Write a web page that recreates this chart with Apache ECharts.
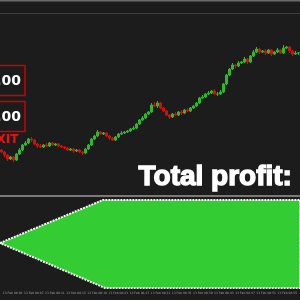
<!DOCTYPE html>
<html><head><meta charset="utf-8">
<style>html,body{margin:0;padding:0;background:#1c1c1c;}#c{width:300px;height:300px;}</style>
<script src="https://cdn.jsdelivr.net/npm/echarts@6/dist/echarts.min.js"></script>
</head><body><div id="c"></div>
<script>
const openVals  = [50,48,45,41,43,40,46,50,55,57, 61,60,56,54,53,55,54,57,55,56, 54,53,52,50,51,49,50,48,47,51, 55,61,64,68,66,67,64,62,60,63, 66,67,68,69,71,72,76,80,82,86, 88,95,94,97,92,89,85,83,86,85, 88,87,90,89,92,94,97,102,103,106, 107,109,106,106,108,116,125,131,135,134, 137,138,141,138,144,148,151,148,149,147, 150,146,148,150,147,152,153,149,146,147];
const closeVals = [48,45,41,43,40,46,50,55,57,61, 60,56,54,53,55,54,57,55,56,54, 53,52,50,51,49,50,48,47,51,55, 61,64,68,66,67,64,62,60,63,66, 67,68,69,71,72,76,80,82,86,88, 95,94,97,92,89,85,83,86,85,88, 87,90,89,92,94,97,102,103,106,107, 109,106,106,108,116,125,131,135,134,137, 138,141,138,144,148,151,148,149,147,150, 146,148,150,147,152,153,149,146,147,147];
const highVals  = [51,49,46,44,44,47,52,56,59,62, 63,61,57,56,56,57,58,58,57,57, 55,54,53,52,52,51,51,49,52,56, 62,65,70,69,68,68,65,63,64,67, 69,69,70,72,74,77,81,84,87,89, 97,98,99,98,93,90,86,87,88,89, 90,91,92,93,95,98,103,105,107,109, 110,111,108,110,117,126,132,137,136,139, 139,143,142,145,150,153,152,150,151,151, 151,149,152,151,155,154,154,150,149,148];
const lowVals   = [47,43,39,40,38,39,45,49,54,56, 58,55,52,52,52,53,53,54,54,53, 52,51,49,49,47,48,47,45,46,50, 54,60,63,65,65,63,60,59,59,62, 65,66,67,68,70,71,75,79,81,85, 87,93,92,91,88,84,81,82,84,84, 85,86,88,88,91,93,96,101,102,105, 106,105,104,105,107,115,124,130,132,133, 136,137,136,137,143,147,146,147,145,146, 144,145,147,146,146,151,147,144,145,145];
const tickLabels = ["13 Feb 08:03","13 Feb 08:07","13 Feb 08:11","13 Feb 08:15","13 Feb 08:19","13 Feb 08:23","13 Feb 08:27","13 Feb 08:31","13 Feb 08:35","13 Feb 08:39","13 Feb 08:43","13 Feb 08:47","13 Feb 08:51","13 Feb 08:55"];
const boxTexts = ["+100.00", "+100.00"];
const exitText = "EXIT";
const titleText = "Total profit:";

const candleData = openVals.map((o, i) => [o, closeVals[i], lowVals[i], highVals[i]]);
const candleCats = openVals.map((_, i) => String(i));

const chart = echarts.init(document.getElementById('c'), null, {renderer: 'canvas'});
chart.setOption({
  backgroundColor: '#1c1c1c',
  animation: false,
  grid: [
    {left: 0, right: 0, top: 0, height: 200},
    {left: 0, right: 0, top: 200, height: 88}
  ],
  xAxis: [
    {type: 'category', data: candleCats, gridIndex: 0, boundaryGap: true, show: false},
    {type: 'category', data: tickLabels, gridIndex: 1, boundaryGap: true,
     axisLine: {show: false}, axisTick: {show: false},
     axisLabel: {show: true, interval: 0, fontSize: 3, color: '#a0a0a0', margin: 4, fontFamily: 'DejaVu Sans'}}
  ],
  yAxis: [
    {type: 'value', gridIndex: 0, min: 0, max: 200, show: false},
    {type: 'value', gridIndex: 1, min: 0, max: 1, show: false}
  ],
  series: [{
    type: 'candlestick', xAxisIndex: 0, yAxisIndex: 0, data: candleData,
    barWidth: 2,
    itemStyle: {color: '#2fb82f', color0: '#cc1111', borderColor: '#2fb82f', borderColor0: '#cc1111', borderWidth: 1}
  }],
  graphic: [
    {type: 'line', shape: {x1: 0, y1: 0.5, x2: 300, y2: 0.5}, style: {stroke: '#6a6a6a', lineWidth: 2}},
    {type: 'line', shape: {x1: 0, y1: 13.5, x2: 300, y2: 13.5}, style: {stroke: '#3e3e3e', lineWidth: 1}},
    {type: 'line', shape: {x1: 0, y1: 196, x2: 300, y2: 196}, style: {stroke: '#7a7a7a', lineWidth: 2}},
    {type: 'polygon', shape: {points: [[0,243],[103,200],[300,200],[300,288],[105,288]]},
     style: {fill: '#33cc33', stroke: '#ffffff', lineWidth: 2, lineDash: [2,1]}},
    {type: 'rect', shape: {x: -50, y: 65.5, width: 75, height: 30}, style: {fill: '#1c1c1c', stroke: '#cc0000', lineWidth: 1.5}},
    {type: 'text', x: 21, y: 81, style: {text: boxTexts[0], fill: '#ffffff', font: 'bold 14px "DejaVu Sans"', textAlign: 'right', textVerticalAlign: 'middle'}},
    {type: 'rect', shape: {x: -50, y: 101.5, width: 75, height: 30}, style: {fill: '#1c1c1c', stroke: '#cc0000', lineWidth: 1.5}},
    {type: 'text', x: 21, y: 117, style: {text: boxTexts[1], fill: '#ffffff', font: 'bold 14px "DejaVu Sans"', textAlign: 'right', textVerticalAlign: 'middle'}},
    {type: 'text', x: 18.5, y: 140, style: {text: exitText, fill: '#e81414', font: 'bold 12px "DejaVu Sans"', textAlign: 'right', textVerticalAlign: 'middle'}},
    {type: 'text', x: 138.5, y: 177, style: {text: titleText, fill: '#ffffff', stroke: '#ffffff', lineWidth: 1.4, font: 'bold 28px "Liberation Sans"', textAlign: 'left', textVerticalAlign: 'middle'}}
  ]
});
</script></body></html>
